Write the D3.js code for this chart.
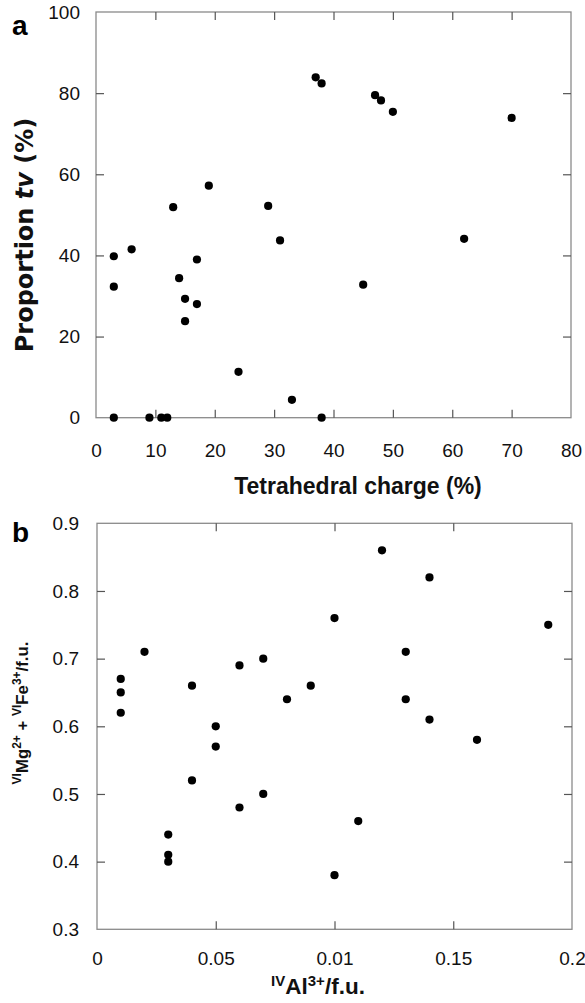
<!DOCTYPE html>
<html><head><meta charset="utf-8">
<script src="https://cdn.jsdelivr.net/npm/d3@7"></script>
<style>body{margin:0;background:#fff}svg{display:block}</style>
</head><body>
<svg id="c" width="585" height="1003"></svg>
<script>
// Panel a data
const aX = [3,3,3,6,9,11,12,13,14,15,15,17,17,19,24,29,31,33,37,38,38,45,47,48,50,62,70];
const aY = [39.8,32.3,0,41.5,0,0,0,51.9,34.4,29.3,23.8,39,28,57.2,11.3,52.2,43.7,4.4,83.9,82.4,0,32.8,79.5,78.2,75.4,44.1,73.9];
const aXTicks = [0,10,20,30,40,50,60,70,80];
const aYTicks = [0,20,40,60,80,100];
// Panel b data
const bX = [0.01,0.01,0.01,0.02,0.03,0.03,0.03,0.04,0.04,0.05,0.05,0.06,0.06,0.07,0.07,0.08,0.09,0.10,0.10,0.11,0.12,0.13,0.13,0.14,0.14,0.16,0.19];
const bY = [0.67,0.65,0.62,0.71,0.44,0.41,0.40,0.66,0.52,0.60,0.57,0.69,0.48,0.70,0.50,0.64,0.66,0.76,0.38,0.46,0.86,0.71,0.64,0.82,0.61,0.58,0.75];
const bXTicks = [0,0.05,0.1,0.15,0.2];
const bXTickLabels = ["0","0.05","0.01","0.15","0.2"];
const bYTicks = [0.3,0.4,0.5,0.6,0.7,0.8,0.9];

const svg = d3.select("#c");
const FONT = "Liberation Sans, Arial, sans-serif";

function panel(o){
  const g = svg.append("g");
  const x = d3.scaleLinear().domain(o.xd).range([o.l,o.r]);
  const y = d3.scaleLinear().domain(o.yd).range([o.b,o.t]);
  g.append("rect").attr("x",o.l).attr("y",o.t).attr("width",o.r-o.l).attr("height",o.b-o.t)
    .attr("fill","none").attr("stroke","#8a8a8a").attr("stroke-width",1.3);
  const inX = o.xt.slice(1,-1), inY = o.yt.slice(1,-1);
  const tk = (ax)=> ax.tickFormat("").tickSize(-8);
  const styleT = s=>{ s.select(".domain").remove(); s.selectAll(".tick line").attr("stroke","#555").attr("stroke-width",1.2); };
  g.append("g").attr("transform",`translate(0,${o.b})`).call(tk(d3.axisBottom(x).tickValues(inX))).call(styleT);
  g.append("g").attr("transform",`translate(0,${o.t})`).call(tk(d3.axisTop(x).tickValues(inX))).call(styleT);
  g.append("g").attr("transform",`translate(${o.l},0)`).call(tk(d3.axisLeft(y).tickValues(inY))).call(styleT);
  g.append("g").attr("transform",`translate(${o.r},0)`).call(tk(d3.axisRight(y).tickValues(inY))).call(styleT);
  const lx = g.append("g").attr("transform",`translate(0,${o.b})`)
    .call(d3.axisBottom(x).tickValues(o.xt).tickSize(0).tickPadding(o.xpad).tickFormat((d,i)=>o.xl[i]));
  lx.select(".domain").remove();
  lx.selectAll("text").attr("font-family",FONT).attr("font-size",19).attr("fill","#111");
  const ly = g.append("g").attr("transform",`translate(${o.l},0)`)
    .call(d3.axisLeft(y).tickValues(o.yt).tickSize(0).tickPadding(o.ypad).tickFormat((d,i)=>o.yl[i]));
  ly.select(".domain").remove();
  ly.selectAll("text").attr("font-family",FONT).attr("font-size",19).attr("fill","#111");
  g.append("g").selectAll("circle").data(o.xs).join("circle")
    .attr("cx",d=>x(d)).attr("cy",(d,i)=>y(o.ys[i])).attr("r",4.1).attr("fill","#000");
  return g;
}

panel({xd:[0,80],yd:[0,100],l:96,r:571,t:12,b:417.7,xt:aXTicks,yt:aYTicks,
  xl:aXTicks.map(String),yl:aYTicks.map(String),xs:aX,ys:aY,xpad:26,ypad:16});
panel({xd:[0,0.2],yd:[0.3,0.9],l:97,r:572,t:523.3,b:929.3,xt:bXTicks,yt:bYTicks,
  xl:bXTickLabels,yl:bYTicks.map(String),xs:bX,ys:bY,xpad:22,ypad:18});

svg.append("text").attr("x",12).attr("y",35).attr("font-family",FONT).attr("font-weight","bold").attr("font-size",28).text("a");
svg.append("text").attr("x",12).attr("y",542).attr("font-family",FONT).attr("font-weight","bold").attr("font-size",28).text("b");

svg.append("text").attr("x",358).attr("y",494).attr("text-anchor","middle")
  .attr("font-family",FONT).attr("font-weight","bold").attr("font-size",23).attr("fill","#111").text("Tetrahedral charge (%)");
const ya = svg.append("text").attr("transform","translate(33,235) rotate(-90)").attr("text-anchor","middle")
  .attr("font-family","DejaVu Sans, sans-serif").attr("font-weight","bold").attr("font-size",24).attr("fill","#111");
ya.append("tspan").text("Proportion ");
ya.append("tspan").attr("font-style","italic").text("tv");
ya.append("tspan").text(" (%)");

const xb = svg.append("text").attr("x",318).attr("y",994).attr("text-anchor","middle")
  .attr("font-family",FONT).attr("font-weight","bold").attr("font-size",22.5).attr("fill","#111");
xb.append("tspan").attr("font-size",15).attr("dy",-8).text("IV");
xb.append("tspan").attr("dy",8).text("Al");
xb.append("tspan").attr("font-size",15).attr("dy",-8).text("3+");
xb.append("tspan").attr("dy",8).text("/f.u.");

const yb = svg.append("text").attr("transform","translate(28,713) rotate(-90)").attr("text-anchor","middle")
  .attr("font-family",FONT).attr("font-weight","bold").attr("font-size",16.8).attr("fill","#111");
yb.append("tspan").attr("font-size",12).attr("dy",-7).text("VI");
yb.append("tspan").attr("dy",7).text("Mg");
yb.append("tspan").attr("font-size",12).attr("dy",-7).text("2+");
yb.append("tspan").attr("dy",7).text(" + ");
yb.append("tspan").attr("font-size",12).attr("dy",-7).text("VI");
yb.append("tspan").attr("dy",7).text("Fe");
yb.append("tspan").attr("font-size",12).attr("dy",-7).text("3+");
yb.append("tspan").attr("dy",7).text("/f.u.");
</script>
</body></html>
